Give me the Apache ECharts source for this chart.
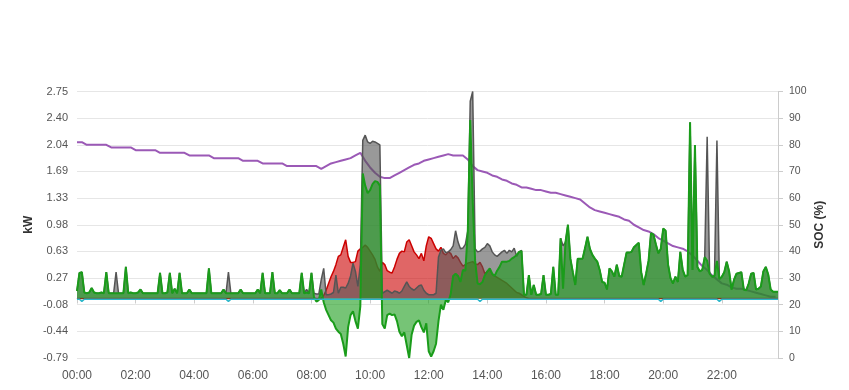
<!DOCTYPE html>
<html><head><meta charset="utf-8">
<script src="https://cdn.jsdelivr.net/npm/echarts@6/dist/echarts.min.js"></script>
<style>html,body{margin:0;padding:0;background:#fff}#c{width:849px;height:390px}</style>
</head><body><div id="c"></div>
<script>
// 5-minute samples, 00:00 .. 23:55 (one row = one hour)
const stepMin = 5;
const gridPower = [
0.10,0.34,0.35,0.08,0.07,0.08,0.14,0.08,0.07,0.07,0.08,0.07,
0.35,0.07,0.07,0.07,0.07,0.07,0.07,0.07,0.42,0.07,0.08,0.07,
0.07,0.08,0.12,0.07,0.07,0.07,0.07,0.07,0.07,0.07,0.34,0.07,
0.07,0.08,0.34,0.07,0.13,0.07,0.34,0.07,0.07,0.07,0.12,0.07,
0.07,0.07,0.07,0.07,0.07,0.07,0.40,0.07,0.07,0.07,0.07,0.07,
0.12,0.07,0.07,0.07,0.07,0.07,0.07,0.12,0.07,0.07,0.07,0.07,
0.07,0.07,0.12,0.07,0.34,0.07,0.07,0.07,0.35,0.07,0.07,0.11,
0.07,0.07,0.07,0.12,0.07,0.07,0.07,0.07,0.34,0.07,0.08,0.07,
0.34,0.02,-0.04,-0.02,0.12,-0.05,-0.15,-0.22,-0.29,-0.32,-0.40,-0.44,
-0.47,-0.60,-0.77,-0.38,-0.22,-0.17,-0.30,-0.40,-0.10,1.66,1.50,1.40,
1.44,1.52,1.56,1.55,1.50,-0.34,-0.40,-0.22,-0.20,-0.22,-0.21,-0.30,
-0.44,-0.50,-0.45,-0.62,-0.79,-0.48,-0.36,-0.31,-0.29,-0.38,-0.45,-0.33,
-0.70,-0.77,-0.70,-0.60,-0.30,-0.08,-0.15,-0.02,-0.05,0.06,0.30,0.33,
0.30,0.22,0.38,0.37,0.89,2.37,1.30,0.50,0.20,0.19,0.22,0.31,
0.36,0.40,0.33,0.30,0.37,0.42,0.49,0.49,0.49,0.50,0.53,0.55,
0.58,0.62,0.63,0.05,0.05,0.31,0.05,0.18,0.05,0.05,0.06,0.31,
0.05,0.05,0.06,0.42,0.05,0.05,0.80,0.13,0.75,0.98,0.53,0.35,
0.18,0.53,0.53,0.53,0.67,0.82,0.66,0.58,0.53,0.49,0.38,0.22,
0.21,0.12,0.40,0.36,0.29,0.45,0.30,0.29,0.45,0.61,0.61,0.62,
0.68,0.71,0.74,0.35,0.18,0.33,0.50,0.87,0.85,0.72,0.60,0.66,
0.93,0.90,0.45,0.27,0.20,0.29,0.22,0.62,0.38,0.29,0.31,2.34,
0.38,2.04,0.42,0.36,0.38,0.55,0.50,0.33,0.29,0.30,0.50,0.26,
0.29,0.35,0.49,0.36,0.12,0.25,0.33,0.34,0.35,0.12,0.11,0.20,
0.33,0.34,0.12,0.13,0.16,0.36,0.42,0.32,0.12,0.09,0.09,0.09
];
const loadPower = [
0.10,0.34,0.35,0.08,0.07,0.08,0.14,0.08,0.07,0.07,0.08,0.07,
0.35,0.07,0.07,0.07,0.35,0.07,0.07,0.07,0.42,0.07,0.08,0.07,
0.07,0.08,0.12,0.07,0.07,0.07,0.07,0.07,0.07,0.07,0.34,0.07,
0.07,0.08,0.34,0.07,0.13,0.07,0.34,0.07,0.07,0.07,0.12,0.07,
0.07,0.07,0.07,0.07,0.07,0.07,0.40,0.07,0.07,0.07,0.07,0.07,
0.12,0.07,0.35,0.07,0.07,0.07,0.07,0.12,0.07,0.07,0.07,0.07,
0.07,0.07,0.12,0.07,0.34,0.07,0.07,0.07,0.35,0.07,0.07,0.11,
0.07,0.07,0.07,0.12,0.07,0.07,0.07,0.07,0.34,0.07,0.12,0.07,
0.34,0.07,0.06,0.06,0.25,0.40,0.05,0.05,0.06,0.08,0.31,0.07,
0.15,0.15,0.14,0.20,0.30,0.47,0.36,0.16,0.45,2.10,2.17,2.08,
2.06,2.09,2.08,2.06,2.04,0.07,0.09,0.11,0.09,0.07,0.10,0.09,
0.07,0.10,0.16,0.22,0.16,0.13,0.11,0.14,0.17,0.18,0.11,0.07,
0.05,0.05,0.05,0.07,0.55,0.64,0.66,0.61,0.62,0.65,0.70,0.90,
0.75,0.66,0.67,0.72,0.90,2.62,2.75,0.66,0.62,0.63,0.66,0.68,
0.73,0.70,0.62,0.58,0.56,0.59,0.62,0.64,0.60,0.64,0.62,0.67,
0.56,0.62,0.64,0.05,0.05,0.31,0.05,0.18,0.05,0.05,0.06,0.31,
0.05,0.05,0.06,0.42,0.05,0.05,0.80,0.70,0.75,0.98,0.53,0.35,
0.18,0.53,0.53,0.53,0.67,0.82,0.66,0.58,0.53,0.49,0.38,0.22,
0.21,0.12,0.40,0.36,0.29,0.45,0.30,0.29,0.45,0.61,0.61,0.62,
0.68,0.71,0.74,0.35,0.18,0.33,0.50,0.87,0.85,0.72,0.60,0.66,
0.93,0.90,0.45,0.27,0.20,0.29,0.22,0.62,0.38,0.29,0.31,2.34,
0.38,2.04,0.42,0.36,0.38,0.55,2.15,0.33,0.29,0.30,2.10,0.26,
0.29,0.35,0.49,0.36,0.12,0.25,0.33,0.34,0.35,0.12,0.11,0.20,
0.33,0.34,0.12,0.13,0.16,0.36,0.42,0.32,0.12,0.09,0.09,0.09
];
const pvPower = [
0,0,0,0,0,0,0,0,0,0,0,0,
0,0,0,0,0,0,0,0,0,0,0,0,
0,0,0,0,0,0,0,0,0,0,0,0,
0,0,0,0,0,0,0,0,0,0,0,0,
0,0,0,0,0,0,0,0,0,0,0,0,
0,0,0,0,0,0,0,0,0,0,0,0,
0,0,0,0,0,0,0,0,0,0,0,0,
0,0,0,0,0,0,0,0,0,0,0,0,
0,0,0,0,0,0.04,0.11,0.20,0.29,0.36,0.45,0.56,
0.58,0.68,0.78,0.56,0.48,0.48,0.49,0.63,0.66,0.68,0.71,0.68,
0.63,0.58,0.52,0.42,0.36,0.48,0.45,0.37,0.35,0.34,0.42,0.52,
0.60,0.63,0.62,0.75,0.78,0.70,0.62,0.58,0.53,0.60,0.50,0.70,
0.82,0.80,0.73,0.66,0.63,0.68,0.60,0.58,0.62,0.60,0.53,0.57,
0.54,0.48,0.43,0.45,0.47,0.48,0.49,0.46,0.45,0.48,0.42,0.33,
0.36,0.38,0.32,0.30,0.28,0.26,0.24,0.22,0.20,0.17,0.14,0.11,
0.08,0.07,0.05,0.03,0.01,0,0,0,0,0,0,0,
0,0,0,0,0,0,0,0,0,0,0,0,
0,0,0,0,0,0,0,0,0,0,0,0,
0,0,0,0,0,0,0,0,0,0,0,0,
0,0,0,0,0,0,0,0,0,0,0,0,
0,0,0,0,0,0,0,0,0,0,0,0,
0,0,0,0,0,0,0,0,0,0,0,0,
0,0,0,0,0,0,0,0,0,0,0,0,
0,0,0,0,0,0,0,0,0,0,0,0
];
// battery power, sampled where it changes (minutes of day)
const batteryMinutes = [0,5,10,15,305,310,315,820,825,830,1190,1195,1200,1310,1315,1320,1435];
const batteryPower   = [-0.01,-0.01,-0.04,-0.01,-0.01,-0.04,-0.01,-0.01,-0.04,-0.01,-0.01,-0.04,-0.01,-0.01,-0.04,-0.01,-0.01];
// SOC, 10-minute samples (one row = two hours)
const socStepMin = 10;
const soc = [
81,81,80,80,80,80,80,79,79,79,79,79,
78,78,78,78,78,77,77,77,77,77,77,76,
76,76,76,76,75,75,75,75,75,75,74,74,
74,74,73,73,73,73,73,72,72,72,72,72,
72,72,71,72,73,73.5,74,74.5,75,76,77,74,
71.5,69.5,68,67.5,67.5,68.5,69.5,70.5,71.5,72.5,73,74,
74.5,75,75.5,76,76.5,76,76,76,74.5,72,70.5,70,
69.5,68.5,68,67,66.5,65.5,65,64,64,63.5,63,63,
62.5,62,62,61.5,61,60.5,60,59.5,58,56.5,55.5,55,
54.5,54,53.5,53,52,51.5,50,49,48,47.5,46.5,45,
44,43,42,41.5,41,40,38.5,36.5,34.5,33,31,29.5,
28,27.5,26.5,26,26,25.5,25,24.5,24,23.5,23,23
];
const kwMin = -0.79, kwStep = 0.354, kwSplits = 10;
const xMaxMin = 1435, xTickMin = 120;

const toXY = (arr, step) => arr.map((v, i) => [i * step, v]);
const hhmm = m => String(Math.floor(m / 60)).padStart(2, '0') + ':' + String(Math.round(m % 60)).padStart(2, '0');
const FONT = '"Liberation Sans", Arial, sans-serif';

const chart = echarts.init(document.getElementById('c'), null, {renderer: 'canvas'});
function area(name, data, color, z, width) {
  return {
    name, type: 'line', data, z, showSymbol: false, symbol: 'none',
    lineStyle: {color, width}, itemStyle: {color},
    areaStyle: {color, opacity: 0.6, origin: 0}
  };
}
chart.setOption({
  animation: false,
  textStyle: {fontFamily: FONT},
  grid: {left: 77, right: 71, top: 91.5, bottom: 32},
  xAxis: {
    type: 'value', min: 0, max: xMaxMin, interval: xTickMin,
    axisLine: {show: true, lineStyle: {color: '#cccccc'}},
    axisTick: {show: true, length: 5, lineStyle: {color: '#cccccc'}},
    splitLine: {show: false},
    axisLabel: {color: '#555', fontSize: 12, margin: 12, fontFamily: FONT,
      showMaxLabel: false, formatter: v => hhmm(v)}
  },
  yAxis: [{
    type: 'value', min: kwMin, max: +(kwMin + kwSplits * kwStep).toFixed(3), interval: kwStep,
    name: 'kW', nameLocation: 'middle', nameGap: 42, nameMoveOverlap: false,
    nameTextStyle: {fontWeight: 'bold', fontSize: 12, color: '#333', fontFamily: FONT},
    axisLine: {show: false}, axisTick: {show: false},
    splitLine: {lineStyle: {color: '#e6e6e6'}},
    axisLabel: {color: '#555', fontSize: 11, margin: 9, fontFamily: FONT, formatter: v => v.toFixed(2)}
  }, {
    type: 'value', min: 0, max: 100, interval: 10, position: 'right',
    name: 'SOC (%)', nameLocation: 'middle', nameGap: 36, nameMoveOverlap: false,
    nameTextStyle: {fontWeight: 'bold', fontSize: 12, color: '#333', fontFamily: FONT},
    axisLine: {show: true, lineStyle: {color: '#cccccc'}},
    axisTick: {show: true, length: 5, lineStyle: {color: '#cccccc'}},
    splitLine: {show: false},
    axisLabel: {color: '#555', fontSize: 10.5, margin: 11, fontFamily: FONT}
  }],
  series: [
    {name: 'SOC', type: 'line', yAxisIndex: 1, z: 1, data: toXY(soc, socStepMin),
     showSymbol: false, symbol: 'none', lineStyle: {color: '#9b59b6', width: 2}, itemStyle: {color: '#9b59b6'}},
    area('PV', toXY(pvPower, stepMin), '#cc0000', 2, 1.5),
    area('Load', toXY(loadPower, stepMin), '#555555', 3, 1.5),
    area('Grid', toXY(gridPower, stepMin), '#1a9c1a', 4, 2),
    {name: 'Battery', type: 'line', z: 5, data: batteryMinutes.map((m, i) => [m, batteryPower[i]]),
     showSymbol: false, symbol: 'none', lineStyle: {color: '#2ab7ca', width: 1.5}, itemStyle: {color: '#2ab7ca'}}
  ]
});
</script></body></html>
